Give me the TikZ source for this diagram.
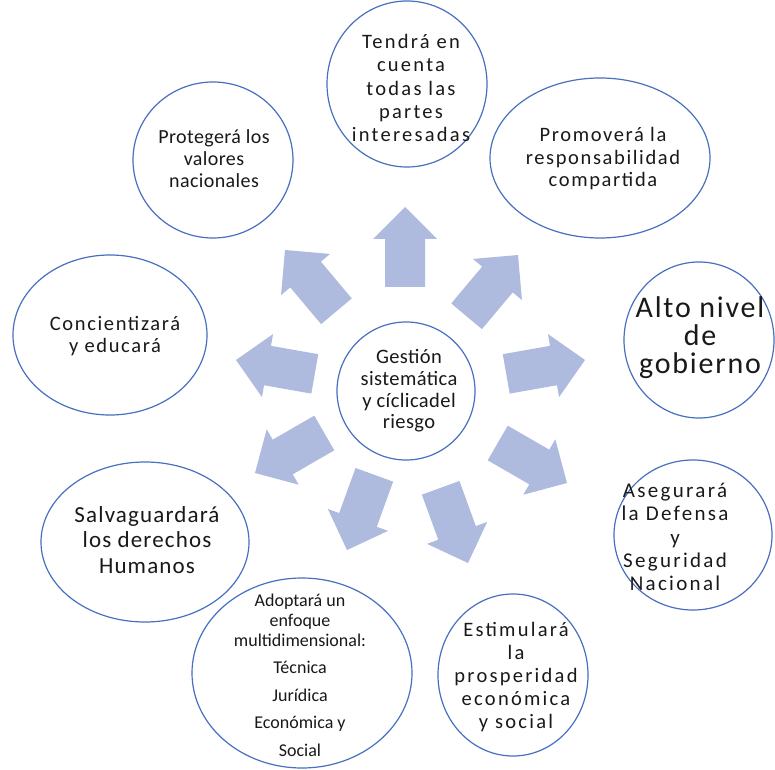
\documentclass[tikz,border=0pt]{standalone}
\usepackage{fontspec}
\setmainfont{Carlito}
\newfontfamily\fA{Carlito}[LetterSpace=2]
\newfontfamily\fB{Carlito}[LetterSpace=8]
\newfontfamily\fC{Carlito}[LetterSpace=11]
\newfontfamily\fD{Carlito}[LetterSpace=5]
\newfontfamily\fE{Carlito}[LetterSpace=6]
\usetikzlibrary{shapes.geometric}
\definecolor{arrowfill}{RGB}{174,187,222}
\definecolor{ringline}{RGB}{72,112,192}
\tikzset{
  ring/.style={draw=ringline, line width=1.2pt, ellipse, inner sep=0pt},
  lbl/.style={align=center, inner sep=0pt, text=black!90},
  blockarrow/.style={fill=arrowfill, draw=none}
}
\begin{document}
\begin{tikzpicture}[x=1pt,y=1pt]
\useasboundingbox (0,0) rectangle (775,769);
\fill[white] (0,0) rectangle (775,769);

% ellipses
\node[ring, minimum width=160pt, minimum height=166pt] (e1) at (407,685) {};
\node[ring, minimum width=160pt, minimum height=156pt] (e2) at (213,609) {};
\node[ring, minimum width=220pt, minimum height=160pt] (e3) at (600,611) {};
\node[ring, minimum width=194pt, minimum height=160pt] (e4) at (110,434) {};
\node[ring, minimum width=150pt, minimum height=156pt] (e5) at (699,429) {};
\node[ring, minimum width=138pt, minimum height=138pt] (c) at (406,378) {};
\node[ring, minimum width=158pt, minimum height=150pt] (e6) at (693,234) {};
\node[ring, minimum width=208pt, minimum height=160pt] (e7) at (145,227) {};
\node[ring, minimum width=220pt, minimum height=190pt] (e8) at (302,96) {};
\node[ring, minimum width=150pt, minimum height=162pt] (e9) at (513,94) {};

% texts
\node[lbl, font=\fC\fontsize{20.5}{23.3}\selectfont] (t1) at (411,681)
  {Tendrá en\\cuenta\\todas las\\partes\\interesadas};
\node[lbl, font=\fA\fontsize{20}{22}\selectfont] (t2) at (214,610)
  {Protegerá los\\valores\\nacionales};
\node[lbl, font=\fB\fontsize{20.5}{22.5}\selectfont] (t3) at (603,610)
  {Promoverá la\\responsabilidad\\compartida};
\node[lbl, font=\fB\fontsize{20.5}{21.5}\selectfont] (t4) at (115,433)
  {Concientizará\\y educará};
\node[lbl, font=\fE\fontsize{30}{28}\selectfont] (t5) at (700,431)
  {Alto nivel\\de\\gobierno};
\node[lbl, font=\fA\fontsize{20.5}{21.7}\selectfont] (tc) at (409,378)
  {Gestión\\sistemática\\y cíclicadel\\riesgo};
\node[lbl, font=\fC\fontsize{21}{23.3}\selectfont] (t6) at (675,232)
  {Asegurará\\la Defensa\\y\\Seguridad\\Nacional};
\node[lbl, font=\fD\fontsize{23}{25.5}\selectfont] (t7) at (147,229)
  {Salvaguardará\\los derechos\\Humanos};
\node[lbl, font=\fontsize{18}{20}\selectfont] (t8) at (300,94)
  {Adoptará un\\enfoque\\multidimensional:\\[7.5pt]Técnica\\[7.5pt]Jurídica\\[7.5pt]Económica y\\[7.5pt]Social};
\node[lbl, font=\fC\fontsize{20.5}{22.8}\selectfont] (t9) at (516,92)
  {Estimulará\\la\\prosperidad\\económica\\y social};

% block arrows radiating from the centre
\foreach \a/\x/\y in {90/405/562, 50/518/514, 10/585/409, -30/567/286,
  -70/468/206, -110/347/219, -150/255/296, 170/236/409, 130/285/519}{
  \fill[blockarrow, shift={(\x,\y)}, rotate=\a]
    (0,0) -- (-32,32) -- (-32,20) -- (-80,20) -- (-80,-20) -- (-32,-20) -- (-32,-32) -- cycle;
}
\end{tikzpicture}
\end{document}
